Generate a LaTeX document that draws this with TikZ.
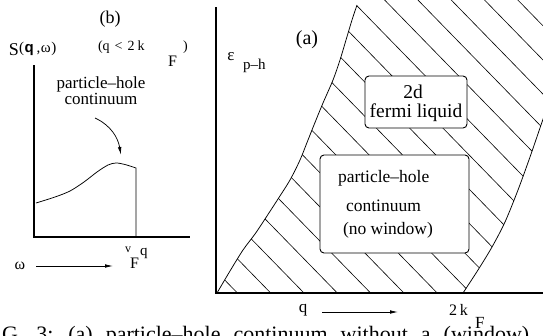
\documentclass[tikz,border=0pt]{standalone}
\usepackage{fontspec}
\setmainfont{Liberation Serif}
\setsansfont{Liberation Sans}
\usetikzlibrary{arrows.meta}
\newcommand\fsz[1]{\fontsize{#1}{#1}\selectfont}
\begin{document}
\begin{tikzpicture}[x=1pt,y=-1pt,
  lbl/.style={inner sep=0pt, outer sep=0pt},
  axisline/.style={line width=1.1pt},
  curveline/.style={line width=0.75pt},
  hatchline/.style={line width=0.6pt},
  arr/.style={line width=0.75pt, -{Latex[length=8pt,width=3.6pt]}},
  region/.style={draw, fill=white, rounded corners=4pt, line width=0.9pt, inner sep=0pt}]
\useasboundingbox (0,0) rectangle (543,335);

% ---------------- panel (b) ----------------
\coordinate (bTop) at (34,65);
\coordinate (bO) at (34,237);
\coordinate (bEnd) at (190,237);
\draw[axisline] (bTop) -- (bO) -- (bEnd);
\coordinate (sFoot) at (136,237);
\draw[curveline] plot[smooth] coordinates {(36,203) (55,197) (70,191) (84,182) (97,172) (108,165) (116,163) (125,164.5) (136,168)} -- (sFoot);

\node[lbl, font=\fsz{18}] (blab) at (110,19) {(b)};
\node[lbl, anchor=base west, font=\fsz{18}] (Slab) at (9,55) {S\raisebox{2.5pt}{\fsz{15}(\hspace{0.5pt}{\sffamily\bfseries q}\hspace{3pt},\hspace{0.5pt}ω\hspace{0.5pt})}};
\node[lbl, anchor=base west, font=\fsz{14}] (qlt) at (98,50) {(q\hspace{5pt}<\hspace{5pt}2\hspace{3pt}k};
\node[lbl, anchor=base west, font=\fsz{16}] (qltF) at (168,66) {F};
\node[lbl, anchor=base west, font=\fsz{14}] (qltR) at (183,50) {)};

\node[lbl, anchor=base, font=\fsz{17}] (phb1) at (101,88) {particle–hole};
\node[lbl, anchor=base, font=\fsz{17}] (phb2) at (101,104) {continuum};
\coordinate (phArrS) at (95,118);
\coordinate (phArrE) at (121,155);
\draw[arr] (phArrS) to[out=-25, in=100] (phArrE);

\node[lbl, font=\fsz{16}] (wlab) at (20,266) {ω};
\coordinate (wS) at (36,266);
\coordinate (wE) at (113,266);
\draw[arr] (wS) -- (wE);
\node[lbl, anchor=base west, font=\fsz{12}] (vlab) at (125,252) {v};
\node[lbl, anchor=base west, font=\fsz{16}] (vF) at (130,268) {F};
\node[lbl, anchor=base west, font=\fsz{15}] (vq) at (140,255) {q};

% ---------------- panel (a) ----------------
\begin{scope}
\clip plot[smooth] coordinates {(217,293) (230,271) (243,250) (255,234) (265,219) (278,199) (290,180) (300,160) (308,140) (316,120) (323,103) (333,80) (340,60) (346,40) (352,20) (357,5) (359,-5)}
  -- (600,-5) -- plot[smooth] coordinates {(584,-5) (580,10) (566,50) (553,90) (541,125) (530,157) (518,190) (505,222) (492,247) (478,270) (463,293)} -- cycle;
\foreach \k in {-3,...,17}{
  \pgfmathsetmacro\xo{304+33.3*\k}
  \draw[hatchline] (\xo,293) -- ({\xo-292.5},-7);
}
\end{scope}
\draw[curveline] plot[smooth] coordinates {(217,293) (230,271) (243,250) (255,234) (265,219) (278,199) (290,180) (300,160) (308,140) (316,120) (323,103) (333,80) (340,60) (346,40) (352,20) (357,5)};
\draw[curveline] plot[smooth] coordinates {(463,293) (478,270) (492,247) (505,222) (518,190) (530,157) (541,125) (553,90) (566,50) (580,10) (584,-5)};

\coordinate (aTop) at (216,7);
\coordinate (aO) at (216,293);
\coordinate (aEnd) at (545,293);
\draw[axisline] (aTop) -- (aO) -- (aEnd);

\node[lbl, font=\fsz{20}] (alab) at (307,40) {(a)};
\node[lbl, font=\fsz{17}] (eps) at (231,57) {ε};
\node[lbl, anchor=base west, font=\fsz{15}] (eph) at (243,69) {p–h};

\node[region, minimum width=102pt, minimum height=52pt] (fl) at (416,102) {};
\node[lbl, anchor=base, font=\fsz{19.5}] (fl1) at (413,98) {2d};
\node[lbl, anchor=base, font=\fsz{19.5}] (fl2) at (416,117) {fermi liquid};

\node[region, minimum width=149pt, minimum height=98pt] (ph) at (394.5,204) {};
\node[lbl, anchor=base west, font=\fsz{17.5}] (ph1) at (338,182) {particle–hole};
\node[lbl, anchor=base west, font=\fsz{17.5}] (ph2) at (346,211) {continuum};
\node[lbl, anchor=base west, font=\fsz{17.5}] (ph3) at (343,234) {(no window)};

\node[lbl, font=\fsz{17}] (qlab) at (303,310) {q};
\coordinate (qS) at (322,312);
\coordinate (qE) at (398,312);
\draw[arr] (qS) -- (qE);
\node[lbl, anchor=base west, font=\fsz{16}] (tk) at (449,315) {2\hspace{3pt}k};
\node[lbl, anchor=base west, font=\fsz{17}] (tkF) at (475,328) {F};

% ---------------- cut caption ----------------
\node[lbl, anchor=base west, font=\fsz{22}] (cap) at (2,341) {\spaceskip=13pt G. 3: (a) particle–hole continuum without a (window)};
\end{tikzpicture}
\end{document}
